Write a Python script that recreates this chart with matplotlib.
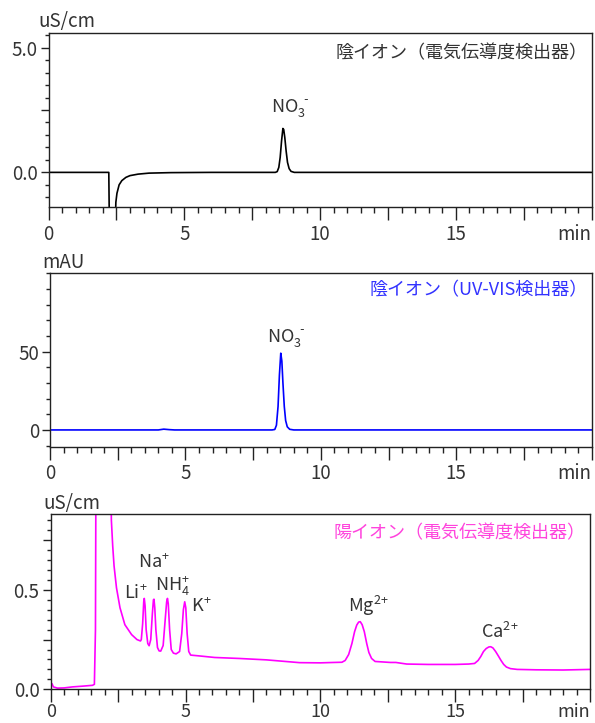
import matplotlib
matplotlib.use("Agg")
import matplotlib.pyplot as plt
from matplotlib.ticker import FixedLocator, MultipleLocator

plt.rcParams['font.family'] = ['Noto Sans CJK JP', 'DejaVu Sans']
plt.rcParams['mathtext.fontset'] = 'custom'
plt.rcParams['mathtext.rm'] = 'Noto Sans CJK JP'
plt.rcParams['mathtext.it'] = 'Noto Sans CJK JP'
plt.rcParams['mathtext.bf'] = 'Noto Sans CJK JP'
plt.rcParams['mathtext.default'] = 'rm'

# --- anion, conductivity detector ---
anion_cd_t = [0.0, 2.22, 2.24, 2.46, 2.48, 2.52, 2.6, 2.7, 2.85, 3.0, 3.3, 3.7, 4.5, 6.0,
              8.35, 8.42, 8.48, 8.53, 8.58, 8.63, 8.66, 8.7, 8.75, 8.8, 8.86, 8.93, 9.05, 20.0]
anion_cd_v = [0.0, 0.0, -2.0, -2.0, -1.2, -0.84, -0.5, -0.33, -0.2, -0.13, -0.07, -0.03, -0.01, 0.0,
              0.0, 0.03, 0.2, 0.6, 1.25, 1.76, 1.72, 1.4, 0.85, 0.4, 0.15, 0.04, 0.0, 0.0]

# --- anion, UV-VIS detector ---
anion_uv_t = [0.0, 4.0, 4.2, 4.4, 4.6, 8.2, 8.3, 8.36, 8.42, 8.47, 8.52, 8.56, 8.6, 8.65,
              8.7, 8.76, 8.85, 9.0, 20.0]
anion_uv_v = [0.0, 0.0, 0.5, 0.2, 0.0, 0.0, 0.3, 3, 15, 35, 49, 44, 30, 15,
              6, 2, 0.4, 0.0, 0.0]

# --- cation, conductivity detector ---
cation_t = [0.0, 0.05, 0.1, 0.25, 0.5, 0.8, 1.2, 1.55, 1.62, 1.66, 1.68, 2.22, 2.25, 2.3, 2.35,
            2.44, 2.57, 2.75, 3.0, 3.2, 3.33,
            3.36, 3.41, 3.45, 3.47, 3.5, 3.54, 3.6, 3.65,
            3.71, 3.77, 3.81, 3.83, 3.86, 3.9, 3.96, 4.02, 4.08,
            4.17, 4.24, 4.3, 4.33, 4.36, 4.41, 4.47, 4.55, 4.65,
            4.78, 4.86, 4.92, 4.97, 5.01, 5.06, 5.12, 5.19,
            5.5, 6.08, 7.0, 8.0, 9.23, 10.0, 10.5, 10.8,
            10.92, 11.05, 11.17, 11.27, 11.35, 11.42, 11.48, 11.55, 11.63, 11.72, 11.8, 11.9, 12.03,
            12.6, 12.8, 13.2, 14.0, 15.0, 15.5, 15.72,
            15.85, 15.95, 16.05, 16.15, 16.25, 16.32, 16.4, 16.5, 16.6, 16.7, 16.8, 16.9, 17.05,
            17.3, 18.0, 19.0, 20.0]
cation_v = [0.03, 0.028, 0.012, 0.006, 0.007, 0.012, 0.016, 0.02, 0.025, 0.3, 1.2, 1.2, 0.85, 0.72, 0.62,
            0.51, 0.41, 0.325, 0.275, 0.25, 0.243,
            0.25, 0.33, 0.44, 0.457, 0.42, 0.3, 0.23, 0.219,
            0.25, 0.38, 0.45, 0.453, 0.41, 0.3, 0.21, 0.193, 0.192,
            0.22, 0.34, 0.44, 0.457, 0.43, 0.3, 0.2, 0.182, 0.178,
            0.19, 0.28, 0.4, 0.44, 0.41, 0.28, 0.19, 0.172,
            0.168, 0.16, 0.155, 0.148, 0.134, 0.133, 0.135, 0.136,
            0.145, 0.175, 0.23, 0.29, 0.323, 0.338, 0.34, 0.325, 0.29, 0.23, 0.185, 0.155, 0.14,
            0.135, 0.135, 0.127, 0.125, 0.125, 0.127, 0.13,
            0.145, 0.165, 0.19, 0.205, 0.213, 0.214, 0.208, 0.19, 0.168, 0.145, 0.125, 0.112, 0.104,
            0.1, 0.098, 0.097, 0.1]

xtick_pos = [0, 2.5, 5, 7.5, 10, 12.5, 15, 17.5, 20]
xtick_lbl = ['0', '', '5', '', '10', '', '15', '', 'min']

txt = '#333333'
W, H = 595, 723
fig = plt.figure(figsize=(W / 100, H / 100), dpi=100)


def px_axes(left, top, right, bottom):
    return fig.add_axes([left / W, 1 - bottom / H, (right - left) / W, (bottom - top) / H])


def style(ax, ymajor, ylabels, yminor, ylim, xpad=3, xsize=13.5):
    ax.set_xlim(0, 20)
    ax.set_ylim(*ylim)
    ax.xaxis.set_major_locator(FixedLocator(xtick_pos))
    ax.set_xticklabels(xtick_lbl)
    ax.xaxis.set_minor_locator(MultipleLocator(0.5))
    ax.get_xticklabels()[-1].set_ha('right')
    ax.yaxis.set_major_locator(FixedLocator(ymajor))
    ax.set_yticklabels(ylabels)
    ax.yaxis.set_minor_locator(MultipleLocator(yminor))
    ax.tick_params(axis='x', which='major', direction='out', length=9, width=1, pad=xpad,
                   labelsize=xsize, labelcolor=txt, color='#222222')
    ax.tick_params(axis='x', which='minor', direction='out', length=4.3, width=1, color='#222222')
    ax.tick_params(axis='y', which='major', direction='out', length=6, width=1, pad=2,
                   labelsize=13.5, labelcolor=txt, color='#222222')
    ax.tick_params(axis='y', which='minor', direction='out', length=3, width=1, color='#222222')
    for s in ax.spines.values():
        s.set_linewidth(1.0)
        s.set_color('#222222')


no3 = r'$\mathrm{NO_3^{\,‐}}$'

# panel 1
ax1 = px_axes(48.5, 32.7, 591.7, 207.3)
ax1.plot(anion_cd_t, anion_cd_v, color='black', lw=1.2)
style(ax1, [0, 2.5, 5], ['0.0', '', '5.0'], 0.5, (-1.4, 5.6))
ax1.text(0.992, 0.885, '陰イオン（電気伝導度検出器）', transform=ax1.transAxes,
         ha='right', va='center', fontsize=13, color=txt)
ax1.text(8.2, 2.43, no3, ha='left', va='baseline', fontsize=13, color=txt)
fig.text(38 / W, 1 - 21 / H, 'uS/cm', ha='left', va='center', fontsize=13.5, color=txt)

# panel 2
ax2 = px_axes(50, 273.3, 591.7, 446.7)
ax2.plot(anion_uv_t, anion_uv_v, color='#0000ff', lw=1.2)
style(ax2, [0, 50], ['0', '50'], 10, (-10.7, 100))
ax2.text(0.992, 0.9, '陰イオン（UV-VIS検出器）', transform=ax2.transAxes,
         ha='right', va='center', fontsize=13, color='#3333ff')
ax2.text(8.0, 56.4, no3, ha='left', va='baseline', fontsize=13, color=txt)
fig.text(42 / W, 1 - 262 / H, 'mAU', ha='left', va='center', fontsize=13.5, color=txt)

# panel 3
ax3 = px_axes(50.7, 514.3, 590, 689.3)
ax3.plot(cation_t, cation_v, color='#ff00ff', lw=1.2)
style(ax3, [0, 0.25, 0.5, 0.75], ['0.0', '', '0.5', ''], 0.05, (0, 0.88), xpad=1, xsize=13)
ax3.text(0.992, 0.89, '陽イオン（電気伝導度検出器）', transform=ax3.transAxes,
         ha='right', va='center', fontsize=13, color='#ff44dd')
for lbl, x, y in [(r'$\mathrm{Li^{\!+}}$', 2.73, 0.453), (r'$\mathrm{Na^{\!+}}$', 3.22, 0.612),
                  (r'$\mathrm{NH_4^{\!+}}$', 3.86, 0.493), (r'$\mathrm{K^{\!+}}$', 5.2, 0.387),
                  (r'$\mathrm{Mg^{2\!+}}$', 11.04, 0.39), (r'$\mathrm{Ca^{2\!+}}$', 15.96, 0.256)]:
    ax3.text(x, y, lbl, ha='left', va='baseline', fontsize=13, color=txt)
fig.text(43 / W, 1 - 504 / H, 'uS/cm', ha='left', va='center', fontsize=13.5, color=txt)

fig.savefig('out.png', dpi=100)
